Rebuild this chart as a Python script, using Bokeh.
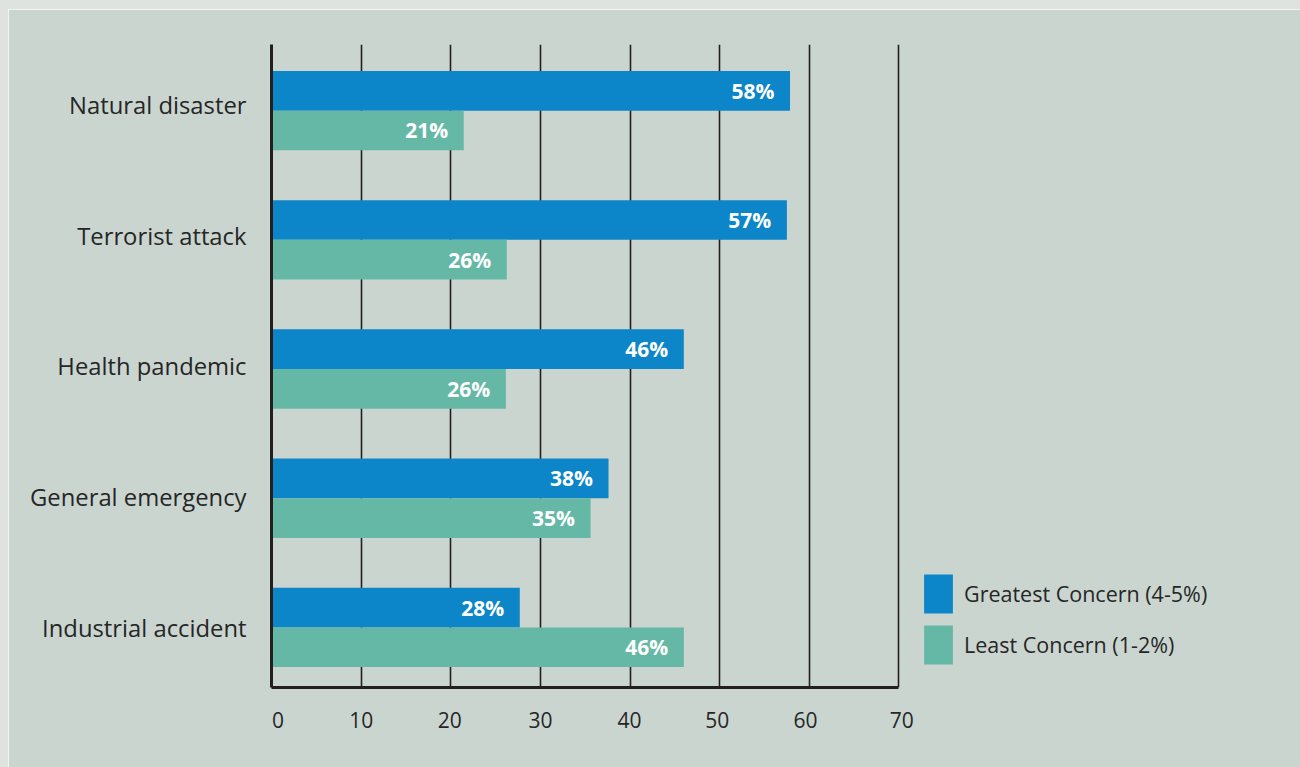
from bokeh.plotting import figure
from bokeh.models import ColumnDataSource, Range1d, FixedTicker, Legend, LegendItem, Div
from bokeh.layouts import column, row
from bokeh.core.properties import value
from bokeh.embed import file_html
from bokeh.resources import INLINE

# ---- data ----
categories = ["Natural disaster", "Terrorist attack", "Health pandemic",
              "General emergency", "Industrial accident"]
greatest = [57.85, 57.5, 46.0, 37.6, 27.7]
least = [21.45, 26.25, 26.15, 35.6, 46.0]
greatest_labels = ["58%", "57%", "46%", "38%", "28%"]
least_labels = ["21%", "26%", "26%", "35%", "46%"]
x_ticks = [0, 10, 20, 30, 40, 50, 60, 70]
x_tick_labels = ["0", "10", "20", "30", "40", "50", "60", "70"]
series_names = ["Greatest Concern (4-5%)", "Least Concern (1-2%)"]

# ---- styling / layout ----
BLUE = "#0c86c8"
GREEN = "#66b8a6"
PANEL = "#cbd5d0"
OUTER = "#dee3df"
INK = "#231f20"
TEXT = "#262626"
FONT = "Open Sans"
BAR_H = 0.307
# small typographic nudges of the tick-label anchors (as in the original artwork)
X_LABEL_NUDGE = [0.73, 0.0, -0.12, 0.0, -0.05, -0.27, -0.42, 0.31]
Y_LABEL_NUDGE = [0.045, 0.032, 0.020, 0.007, -0.005]

n = len(categories)
pos = [n - i for i in range(n)]  # first category at top

src = ColumnDataSource(dict(
    cat=categories,
    g=greatest, l=least,
    gl=greatest_labels, ll=least_labels,
    gy=[p_ + BAR_H / 2 for p_ in pos],
    ly=[p_ - BAR_H / 2 for p_ in pos],
))

p = figure(width=1292, height=758, x_range=Range1d(0, 114.8),
           y_range=Range1d(0.535, 5.512),
           output_backend="svg", toolbar_location=None,
           min_border_left=263, min_border_right=0,
           min_border_top=35, min_border_bottom=80)
p.background_fill_color = PANEL
p.border_fill_color = PANEL
p.outline_line_color = PANEL
p.outline_line_width = 2

rb = p.hbar(y="gy", left=0, right="g", height=BAR_H, source=src,
            fill_color=BLUE, line_color=None)
rg = p.hbar(y="ly", left=0, right="l", height=BAR_H, source=src,
            fill_color=GREEN, line_color=None)

for xcol, ycol, tcol in (("g", "gy", "gl"), ("l", "ly", "ll")):
    p.text(x=xcol, y=ycol, text=tcol, source=src, x_offset=-15.7,
           text_align="right", text_baseline="middle", text_color="white",
           text_font=value(FONT), text_font_style="bold", text_font_size="21px")

# x axis (labels anchored with small nudges; grid uses exact ticks)
x_label_pos = [t + d for t, d in zip(x_ticks, X_LABEL_NUDGE)]
p.xaxis.ticker = FixedTicker(ticks=x_label_pos)
p.xaxis.major_label_overrides = {xp: lab for xp, lab in zip(x_label_pos, x_tick_labels)}
p.xaxis.bounds = (0, 70)
p.xaxis.axis_line_color = INK
p.xaxis.axis_line_width = 3
p.xaxis.major_tick_line_color = None
p.xaxis.minor_tick_line_color = None
p.xaxis.major_label_standoff = 18
p.xaxis.major_label_text_font = FONT
p.xaxis.major_label_text_font_size = "21px"
p.xaxis.major_label_text_color = TEXT

y_label_pos = [pv + d for pv, d in zip(pos, Y_LABEL_NUDGE)]
p.yaxis.ticker = FixedTicker(ticks=y_label_pos)
p.yaxis.major_label_overrides = {yp: c for yp, c in zip(y_label_pos, categories)}
p.yaxis.axis_line_color = INK
p.yaxis.axis_line_width = 3
p.yaxis.major_tick_line_color = None
p.yaxis.minor_tick_line_color = None
p.yaxis.major_label_standoff = 19
p.yaxis.major_label_text_font = FONT
p.yaxis.major_label_text_font_size = "23.8px"
p.yaxis.major_label_text_color = TEXT

p.xgrid.ticker = FixedTicker(ticks=x_ticks)
p.xgrid.bounds = (0, 70)
p.xgrid.grid_line_color = INK
p.xgrid.grid_line_width = 1.6
p.ygrid.visible = False

legend = Legend(items=[LegendItem(label=series_names[0], renderers=[rb]),
                       LegendItem(label=series_names[1], renderers=[rg])],
                location=(649, 18), orientation="vertical",
                glyph_width=36, glyph_height=49, spacing=2,
                label_standoff=8, padding=0, margin=0,
                border_line_alpha=0, background_fill_alpha=0,
                label_text_font=FONT, label_text_font_size="21.5px",
                label_text_color=TEXT)
p.add_layout(legend)

top_strip = Div(text="", width=1300, height=9, margin=0,
                styles={"background-color": OUTER})
left_strip = Div(text="", width=8, height=758, margin=0,
                 styles={"background-color": OUTER})
layout = column(top_strip, row(left_strip, p, spacing=0), spacing=0)

open("out.html", "w").write(file_html(layout, INLINE))
